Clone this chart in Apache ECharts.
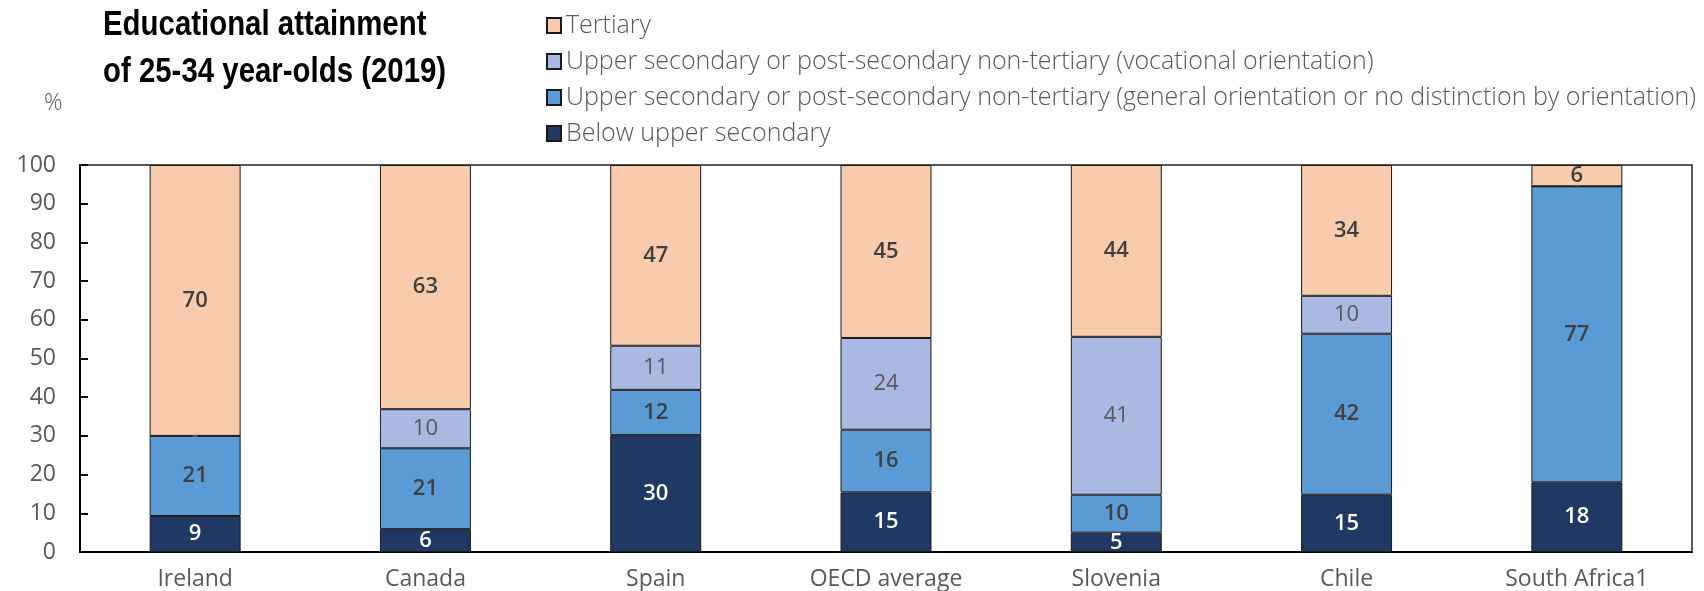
<!DOCTYPE html>
<html>
<head>
<meta charset="utf-8">
<script src="https://cdn.jsdelivr.net/npm/echarts@6/dist/echarts.min.js"></script>
<style>
    html, body { margin: 0; padding: 0; background: #fff; }
    #chart { width: 1704px; height: 591px; }
</style>
</head>
<body>
<div id="chart"></div>
<script>
// 国家 / 分类
const countries = ['Ireland', 'Canada', 'Spain', 'OECD average', 'Slovenia', 'Chile', 'South Africa1']
// 各层数值 (%)
const belowUpper = [9.3, 5.9, 30.2, 15.4, 5.0, 14.8, 18.0]
const upperGeneral = [20.7, 20.9, 11.7, 16.2, 9.8, 41.6, 76.5]
const upperVocational = [0, 10.1, 11.4, 23.7, 40.8, 9.8, 0]
const tertiary = [70.0, 63.1, 46.7, 44.7, 44.4, 33.8, 5.5]
const yTicks = [0, 10, 20, 30, 40, 50, 60, 70, 80, 90, 100]

const names = {
    below: 'Below upper secondary',
    general: 'Upper secondary or post-secondary non-tertiary (general orientation or no distinction by orientation)',
    vocational: 'Upper secondary or post-secondary non-tertiary (vocational orientation)',
    tertiary: 'Tertiary'
}

const textFont = '"Open Sans", "Noto Sans", sans-serif'

function makeSeries(name, data, color, labelColor, labelWeight) {
    return {
        name: name,
        type: 'bar',
        stack: 'total',
        barWidth: '39.5%',
        data: data,
        itemStyle: {
            color: color,
            borderColor: '#1a1a1a',
            borderWidth: 1
        },
        label: {
            show: true,
            position: 'inside',
            color: labelColor,
            fontFamily: textFont,
            fontSize: 22,
            fontWeight: labelWeight,
            formatter: p => p.value === 0 ? '-' : String(Math.round(p.value))
        }
    }
}

let myChart = echarts.init(document.getElementById('chart'))

let option = {
    backgroundColor: '#fff',
    animation: false,
    legend: {
        orient: 'vertical',
        icon: 'rect',
        left: 541,
        top: 8,
        itemGap: 11,
        itemWidth: 14,
        itemHeight: 15,
        textStyle: {
            fontFamily: textFont,
            fontSize: 25,
            fontWeight: 300,
            lineHeight: 25,
            color: '#595959'
        },
        data: [names.tertiary, names.vocational, names.general, names.below]
    },
    graphic: [
        {
            // 标题 (窄体加粗)
            type: 'text',
            x: 103,
            y: 2,
            scaleX: 0.84,
            style: {
                text: 'Educational attainment\nof 25-34 year-olds (2019)',
                font: 'bold 35px "Liberation Sans", Arial, sans-serif',
                lineHeight: 47,
                fill: '#000'
            }
        },
        {
            type: 'text',
            left: 44,
            top: 92,
            style: {
                text: '%',
                font: '300 23px "Open Sans", sans-serif',
                fill: '#595959'
            }
        }
    ],
    grid: {
        left: 80,
        right: 12,
        top: 165,
        bottom: 38,
        show: true,
        borderColor: '#222',
        borderWidth: 1.5
    },
    xAxis: {
        type: 'category',
        data: countries,
        axisLine: { lineStyle: { color: '#000', width: 2 } },
        axisTick: { inside: true, length: 8, lineStyle: { color: '#000', width: 2 } },
        axisLabel: {
            fontFamily: textFont,
            fontSize: 23,
            color: '#595959',
            margin: 16
        }
    },
    yAxis: {
        type: 'value',
        min: yTicks[0],
        max: yTicks[yTicks.length - 1],
        interval: 10,
        splitLine: { show: false },
        axisLine: { show: true, lineStyle: { color: '#000', width: 2 } },
        axisTick: { show: true, inside: true, length: 8, lineStyle: { color: '#000', width: 2 } },
        axisLabel: {
            fontFamily: textFont,
            fontSize: 23,
            color: '#595959',
            margin: 24
        }
    },
    series: [
        makeSeries(names.below, belowUpper, '#203864', '#ffffff', 600),
        makeSeries(names.general, upperGeneral, '#5b9bd5', '#404040', 600),
        makeSeries(names.vocational, upperVocational, '#a9b9e2', '#595959', 'normal'),
        makeSeries(names.tertiary, tertiary, '#f7cbac', '#404040', 600)
    ]
}

myChart.setOption(option, true)
</script>
</body>
</html>
